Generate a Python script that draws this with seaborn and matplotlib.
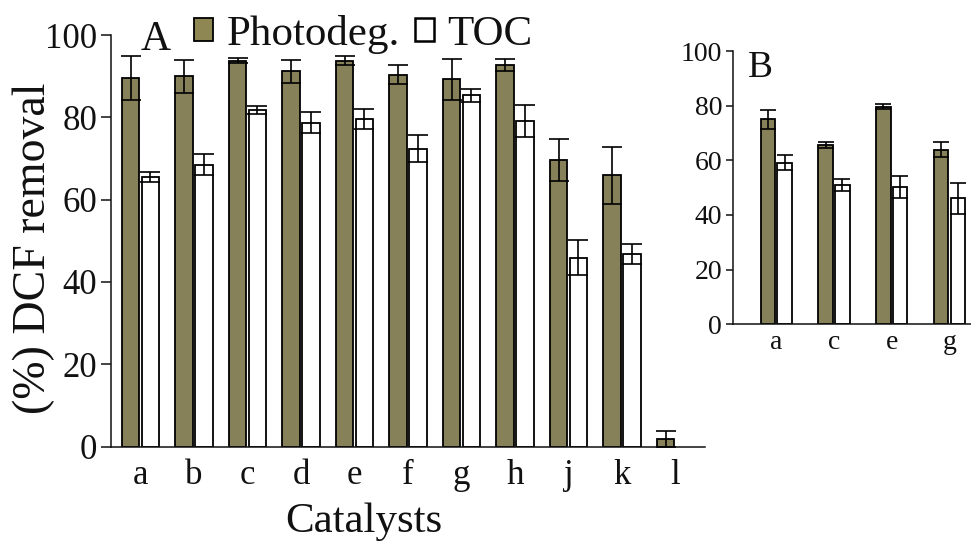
import numpy as np
import pandas as pd
import matplotlib
matplotlib.use("Agg")
import matplotlib.pyplot as plt
import seaborn as sns
from matplotlib.patches import Patch

# ---------------- data ----------------
cats_a = ["a", "b", "c", "d", "e", "f", "g", "h", "j", "k", "l"]
photo_a = [89.6, 90.0, 93.8, 91.2, 93.8, 90.3, 89.2, 92.7, 69.6, 65.9, 1.8]
photo_a_err = [5.4, 4.0, 0.5, 2.8, 1.0, 2.3, 4.9, 1.5, 5.2, 7.0, 1.9]
toc_a = [65.4, 68.5, 81.8, 78.7, 79.5, 72.4, 85.3, 79.1, 45.9, 46.7, np.nan]
toc_a_err = [1.2, 2.5, 1.0, 2.5, 2.4, 3.3, 1.6, 4.0, 4.2, 2.4, np.nan]

cats_b = ["a", "c", "e", "g"]
photo_b = [75.0, 65.5, 79.6, 63.9]
photo_b_err = [3.4, 1.1, 0.9, 2.7]
toc_b = [59.1, 50.9, 50.2, 46.1]
toc_b_err = [2.8, 2.3, 4.0, 5.6]

series = ["Photodeg.", "TOC"]
olive = "#8e8653"
palette = {"Photodeg.": olive, "TOC": "white"}

sns.set_style("ticks")
plt.rcParams["font.family"] = ["Liberation Serif", "DejaVu Serif"]
plt.rcParams["text.color"] = "#111111"
plt.rcParams["axes.labelcolor"] = "#111111"
plt.rcParams["xtick.color"] = "#111111"
plt.rcParams["ytick.color"] = "#111111"

W, H = 971, 541
fig = plt.figure(figsize=(W / 100, H / 100), dpi=100)
fig.patch.set_facecolor("white")


def long_df(cats, p, t):
    return pd.DataFrame({
        "cat": list(cats) * 2,
        "series": [series[0]] * len(cats) + [series[1]] * len(cats),
        "val": list(p) + list(t),
    })


def draw_panel(ax, cats, p, perr, t, terr, width, barw, capsize):
    df = long_df(cats, p, t)
    sns.barplot(data=df, x="cat", y="val", hue="series", order=cats,
                hue_order=series, palette=palette, edgecolor="black",
                linewidth=1.3, width=width, errorbar=None,
                legend=False, ax=ax)
    errs = {series[0]: perr, series[1]: terr}
    for cont, s in zip(ax.containers, series):
        xs, hs, es = [], [], []
        for bar in cont:
            xc = bar.get_x() + bar.get_width() / 2
            bar.set_width(barw)
            bar.set_x(xc - barw / 2)
            h = bar.get_height()
            i = int(round(xc))
            e = errs[s][i]
            if np.isnan(h) or np.isnan(e):
                continue
            xs.append(xc)
            hs.append(h)
            es.append(e)
        ax.errorbar(xs, hs, yerr=es, fmt="none", ecolor="black",
                    elinewidth=1.2, capsize=capsize, capthick=1.2, zorder=5)
    for s in ["top", "right"]:
        ax.spines[s].set_visible(False)
    for s in ["left", "bottom"]:
        ax.spines[s].set_linewidth(1.1)
        ax.spines[s].set_color("#111111")
    ax.set_ylim(0, 100)
    ax.set_yticks([0, 20, 40, 60, 80, 100])
    ax.tick_params(axis="x", length=0)


# ---------------- panel A ----------------
axA = fig.add_axes([111 / W, 1 - 446.5 / H, (705 - 111) / W, (446.5 - 35) / H])
draw_panel(axA, cats_a, photo_a, photo_a_err, toc_a, toc_a_err,
           width=0.74, barw=0.33, capsize=7)
axA.set_xlim(-0.55, 10.55)
axA.tick_params(axis="y", length=7, width=1.1, labelsize=25, pad=3)
axA.tick_params(axis="x", labelsize=25, pad=9)
axA.set_xlabel("Catalysts", fontsize=31)
axA.xaxis.set_label_coords((364 - 111) / 594, -0.135)
axA.set_ylabel("(%) DCF removal", fontsize=33)
axA.yaxis.set_label_coords(-0.095, 0.482)
axA.text(141 / W, 1 - 50 / H, "A", transform=fig.transFigure, fontsize=30,
         ha="left", va="baseline")

handles = [Patch(facecolor=olive, edgecolor="black", linewidth=1.3),
           Patch(facecolor="white", edgecolor="black", linewidth=1.8)]
fig.legend(handles, series, ncol=2, frameon=False, fontsize=31,
           handlelength=0.45, handleheight=0.45, handletextpad=0.3,
           columnspacing=0.35, borderpad=0, borderaxespad=0,
           loc="upper left", bbox_to_anchor=(194 / W, 1 - 15 / H))

# ---------------- panel B ----------------
axB = fig.add_axes([733.3 / W, 1 - 324.3 / H, 4.145 * 57.7 / W, (324.3 - 51) / H])
draw_panel(axB, cats_b, photo_b, photo_b_err, toc_b, toc_b_err,
           width=0.58, barw=0.25, capsize=6)
axB.set_xlim(-0.745, 3.4)
axB.tick_params(axis="y", length=5, width=1.1, labelsize=20, pad=3)
axB.tick_params(axis="x", labelsize=20, pad=4)
axB.set_xlabel("")
axB.set_ylabel("")
axB.text(748 / W, 1 - 77 / H, "B", transform=fig.transFigure, fontsize=27,
         ha="left", va="baseline")

fig.savefig("out.png", dpi=100)
